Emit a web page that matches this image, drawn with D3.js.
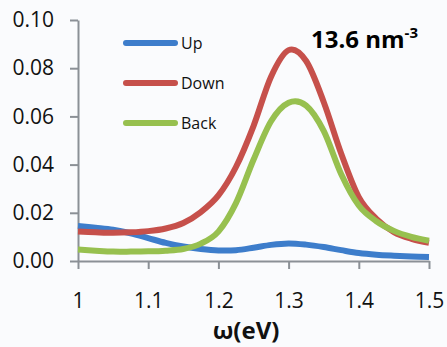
<!DOCTYPE html>
<html><head><meta charset="utf-8">
<script src="https://cdn.jsdelivr.net/npm/d3@7/dist/d3.min.js"></script>
<style>
html,body{margin:0;padding:0;background:#fafbfd;}
svg{display:block;}
</style></head>
<body>
<script>
const omega = [1.000,1.025,1.050,1.075,1.100,1.125,1.150,1.175,1.200,1.225,1.250,1.275,1.300,1.325,1.350,1.375,1.400,1.425,1.450,1.475,1.500];
const up    = [0.0145,0.0138,0.0130,0.0115,0.0095,0.0075,0.0060,0.0050,0.0044,0.0045,0.0055,0.0067,0.0073,0.0068,0.0058,0.0045,0.0033,0.0026,0.0022,0.0019,0.0017];
const down  = [0.0122,0.0119,0.0117,0.0119,0.0124,0.0135,0.0158,0.0203,0.0272,0.0390,0.0560,0.0765,0.0875,0.0830,0.0660,0.0445,0.0265,0.0175,0.0120,0.0092,0.0076];
const back  = [0.0048,0.0043,0.0039,0.0039,0.0040,0.0043,0.0050,0.0072,0.0122,0.0240,0.0420,0.0580,0.0657,0.0645,0.0540,0.0360,0.0230,0.0165,0.0125,0.0100,0.0084];
const seriesNames = ["Up","Down","Back"];
const xTicks = [1,1.1,1.2,1.3,1.4,1.5];
const xTickLabels = ["1","1.1","1.2","1.3","1.4","1.5"];
const yTicks = [0,0.02,0.04,0.06,0.08,0.10];
const yTickLabels = ["0.00","0.02","0.04","0.06","0.08","0.10"];
const xTitle = "ω(eV)";
const annotation = "13.6 nm";
const annotationSup = "-3";

const W=447,H=347;
const colors = {Up:"#3d7dcb",Down:"#c6504b",Back:"#97c04f"};
const svg = d3.select("body").append("svg").attr("width",W).attr("height",H);

const x = d3.scaleLinear().domain([1,1.5]).range([78,429]);
const y = d3.scaleLinear().domain([0,0.10]).range([261,20]);
const axisColor="#8b9096";
const font="'Open Sans', 'Liberation Sans', sans-serif";

const yAxis = svg.append("g").attr("transform","translate(78,0)")
  .call(d3.axisLeft(y).tickValues(yTicks).tickFormat((d,i)=>yTickLabels[i]).tickSize(8).tickSizeOuter(0).tickPadding(16));
const xAxis = svg.append("g").attr("transform","translate(0,261)")
  .call(d3.axisBottom(x).tickValues(xTicks).tickFormat((d,i)=>xTickLabels[i]).tickSize(8).tickSizeOuter(0).tickPadding(24));
[yAxis,xAxis].forEach(g=>{
  g.select(".domain").attr("stroke",axisColor).attr("stroke-width",2);
  g.selectAll(".tick line").attr("stroke",axisColor).attr("stroke-width",2);
  g.selectAll(".tick text").attr("fill","#111").style("font-family",font).style("font-size","21px");
});

const data = {Up:up,Down:down,Back:back};
const line = d3.line().x((d,i)=>x(omega[i])).y(d=>y(d)).curve(d3.curveCardinal.tension(0));
seriesNames.forEach(n=>{
  svg.append("path").attr("d",line(data[n])).attr("fill","none")
    .attr("stroke",colors[n]).attr("stroke-width",6).attr("stroke-linejoin","round");
});

const legY=[43,83,123];
seriesNames.forEach((n,i)=>{
  svg.append("line").attr("x1",126).attr("x2",175).attr("y1",legY[i]).attr("y2",legY[i])
    .attr("stroke",colors[n]).attr("stroke-width",6).attr("stroke-linecap","round");
  svg.append("text").attr("x",181).attr("y",legY[i]+6).text(n)
    .style("font-family",font).style("font-size","16px").attr("fill","#111");
});

const ann = svg.append("text").attr("x",311).attr("y",48)
  .style("font-family",font).style("font-size","24px").style("font-weight","bold").attr("fill","#000");
ann.append("tspan").text(annotation);
ann.append("tspan").text(annotationSup).attr("dy",-10).style("font-size","15px");

svg.append("text").attr("x",246).attr("y",339).attr("text-anchor","middle").text(xTitle)
  .style("font-family",font).style("font-size","24px").style("font-weight","bold").attr("fill","#111");
</script>
</body></html>
